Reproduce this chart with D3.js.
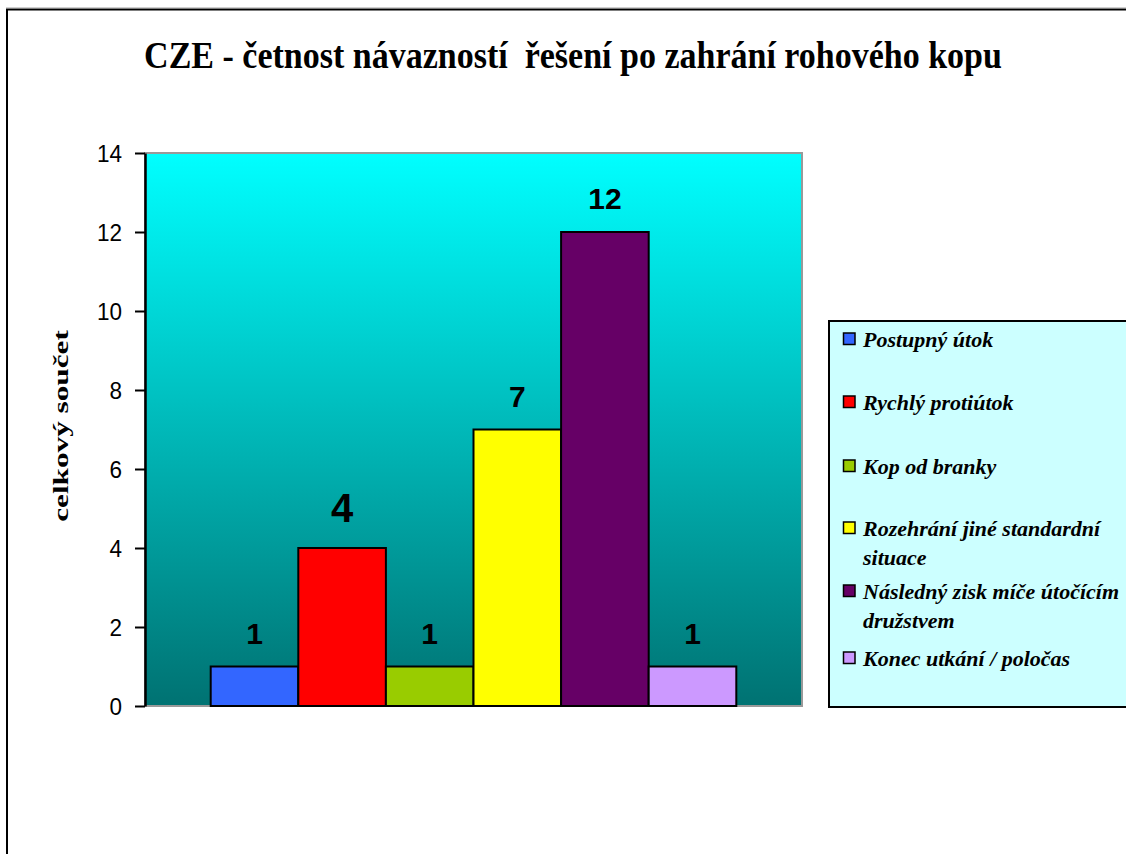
<!DOCTYPE html>
<html>
<head>
<meta charset="utf-8">
<script src="https://cdn.jsdelivr.net/npm/d3@7"></script>
<style>
  body { margin: 0; background: #fff; }
  svg { display: block; }
</style>
</head>
<body>
<div id="chart"></div>
<script>
var categories = ["Postupný útok", "Rychlý protiútok", "Kop od branky",
    "Rozehrání jiné standardní situace", "Následný zisk míče útočícím družstvem",
    "Konec utkání / poločas"];
var values = [1, 4, 1, 7, 12, 1];
var colors = ["#3366ff", "#ff0000", "#99cc00", "#ffff00", "#660066", "#cc99ff"];
var legendLines = [["Postupný útok"], ["Rychlý protiútok"], ["Kop od branky"],
    ["Rozehrání jiné standardní", "situace"], ["Následný zisk míče útočícím", "družstvem"],
    ["Konec utkání / poločas"]];
var yTicks = [0, 2, 4, 6, 8, 10, 12, 14];

var W = 1126, H = 854;
var plot = {left: 145, top: 153, right: 802, bottom: 706};
var serif = "'Liberation Serif', 'DejaVu Serif', serif";
var sans = "'Liberation Sans', Arial, sans-serif";

var svg = d3.select("#chart").append("svg")
    .attr("width", W)
    .attr("height", H);

// gradient pozadi
var grad = svg.append("defs").append("linearGradient")
    .attr("id", "bg")
    .attr("x1", 0).attr("y1", 0).attr("x2", 0).attr("y2", 1);
grad.append("stop").attr("offset", "0%").attr("stop-color", "#00ffff");
grad.append("stop").attr("offset", "100%").attr("stop-color", "#007272");

// vnejsi ramecek
svg.append("line").attr("x1", 6).attr("x2", W).attr("y1", 7.5).attr("y2", 7.5)
    .attr("stroke", "#d0d0d0").attr("stroke-width", 1);
svg.append("path")
    .attr("d", "M7," + H + "V9.5H" + W)
    .attr("fill", "none").attr("stroke", "#000").attr("stroke-width", 2);

svg.append("text")
    .attr("transform", "translate(573,68) scale(1,1.1)")
    .attr("text-anchor", "middle")
    .attr("xml:space", "preserve")
    .style("font-family", serif)
    .style("font-weight", "bold")
    .style("font-size", "34px")
    .text("CZE - četnost návazností  řešení po zahrání rohového kopu");

var x = d3.scaleBand()
    .domain(categories)
    .range([plot.left, plot.right])
    .paddingInner(0)
    .paddingOuter(0.75);

var y = d3.scaleLinear()
    .domain([0, 14])
    .range([plot.bottom, plot.top]);

// plocha grafu
svg.append("rect")
    .attr("x", plot.left)
    .attr("y", plot.top)
    .attr("width", plot.right - plot.left)
    .attr("height", plot.bottom - plot.top)
    .attr("fill", "url(#bg)")
    .attr("stroke", "#999")
    .attr("stroke-width", 2);

svg.selectAll("rect.bar")
    .data(values)
    .enter().append("rect")
    .attr("class", "bar")
    .attr("x", function (d, i) { return x(categories[i]); })
    .attr("y", function (d) { return y(d); })
    .attr("width", x.bandwidth())
    .attr("height", function (d) { return y(0) - y(d); })
    .attr("fill", function (d, i) { return colors[i]; })
    .attr("stroke", "#000")
    .attr("stroke-width", 2);

// popisky hodnot, ctyrka je v originale vetsi
svg.selectAll("text.val")
    .data(values)
    .enter().append("text")
    .attr("class", "val")
    .attr("x", function (d, i) { return x(categories[i]) + x.bandwidth() / 2; })
    .attr("y", function (d, i) { return y(d) - (i === 1 ? 26 : 23); })
    .attr("text-anchor", "middle")
    .style("font-family", sans)
    .style("font-weight", "bold")
    .style("font-size", function (d, i) { return i === 1 ? "40px" : "30px"; })
    .text(function (d) { return d; });

var yAxis = d3.axisLeft(y).tickValues(yTicks).tickSize(10).tickSizeOuter(0);
var gy = svg.append("g")
    .attr("transform", "translate(" + plot.left + ",0)")
    .call(yAxis);
gy.select(".domain").attr("stroke", "#000").attr("stroke-width", 2.5);
gy.selectAll(".tick line").attr("stroke", "#000").attr("stroke-width", 2);
gy.selectAll(".tick text")
    .attr("x", null)
    .attr("dy", "0.36em")
    .attr("transform", "translate(-23,0) scale(1,1.1)")
    .style("font-family", sans)
    .style("font-size", "22.5px")
    .attr("fill", "#000");

svg.append("text")
    .attr("transform", "translate(68,426) rotate(-90) scale(1.42,1)")
    .attr("text-anchor", "middle")
    .style("font-family", serif)
    .style("font-weight", "bold")
    .style("font-size", "22px")
    .text("celkový součet");

// legenda
var lg = svg.append("g");
lg.append("rect")
    .attr("x", 829)
    .attr("y", 321)
    .attr("width", 310)
    .attr("height", 386)
    .attr("fill", "#ccffff")
    .attr("stroke", "#000")
    .attr("stroke-width", 2);

var legendY = [347, 410, 474, 536, 599, 666];
var items = lg.selectAll("g.item")
    .data(legendLines)
    .enter().append("g")
    .attr("class", "item")
    .attr("transform", function (d, i) { return "translate(843," + legendY[i] + ")"; });

items.append("rect")
    .attr("x", 0.5)
    .attr("y", -14)
    .attr("width", 11.5)
    .attr("height", 11.5)
    .attr("fill", function (d, i) { return colors[i]; })
    .attr("stroke", "#000")
    .attr("stroke-width", 1.5);

items.append("text")
    .style("font-family", serif)
    .style("font-weight", "bold")
    .style("font-style", "italic")
    .style("font-size", "22px")
    .selectAll("tspan")
    .data(function (d) { return d; })
    .enter().append("tspan")
    .attr("x", 20)
    .attr("y", function (d, i) { return i * 29; })
    .text(function (d) { return d; });
</script>
</body>
</html>
